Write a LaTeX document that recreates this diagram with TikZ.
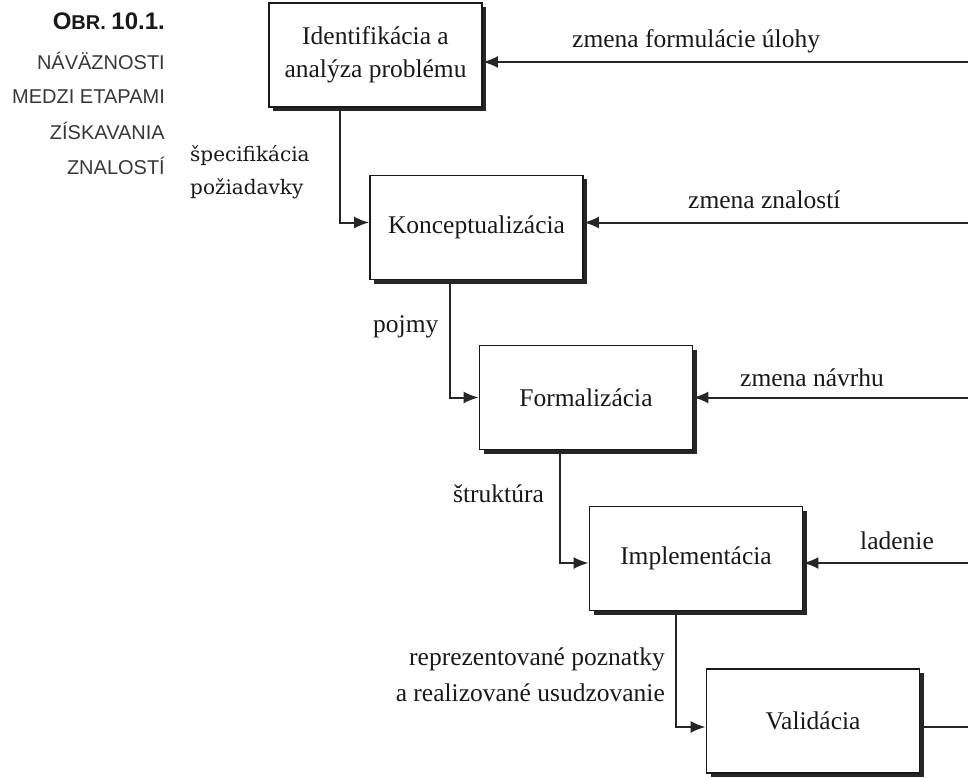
\documentclass[tikz,border=0pt]{standalone}
\usepackage{fontspec}
\setmainfont{Liberation Serif}
\newfontfamily\capfont{Liberation Sans}
\newfontfamily\slabfont{DejaVu Serif}
\usetikzlibrary{arrows.meta,shadows,calc}
\begin{document}
\begin{tikzpicture}[x=1pt,y=-1pt,
  stage/.style={draw=black!90, line width=1.8pt, fill=white,
    minimum width=213pt, minimum height=104pt, inner sep=2pt, align=center,
    font=\fontsize{25.5}{33}\selectfont, text=black!90,
    drop shadow={shadow xshift=4pt, shadow yshift=-4pt, fill=black!85, opacity=1}},
  conn/.style={line width=2pt, draw=black!85},
  arr/.style={conn, -{Latex[length=15pt,width=12pt]}},
  lbl/.style={font=\fontsize{25.5}{36}\selectfont, text=black!90, inner sep=0pt},
  slab/.style={font=\slabfont\fontsize{20}{33}\selectfont, text=black!90, inner sep=0pt, align=left},
  capt/.style={font=\capfont\fontsize{20}{23}\selectfont, text=black!78, inner sep=0pt, anchor=base east}
]
\useasboundingbox (0,0) rectangle (968,778);

% caption
\node[capt, text=black!90] (t0) at (165,30) {\bfseries{\fontsize{24}{28}\selectfont O}BR.~{\fontsize{24}{28}\selectfont 10.1.}};
\node[capt] (t1) at (165,70) {NÁVÄZNOSTI};
\node[capt] (t2) at (165,104) {MEDZI ETAPAMI};
\node[capt] (t3) at (165,140) {ZÍSKAVANIA};
\node[capt] (t4) at (165,175) {ZNALOSTÍ};

% stages
\node[stage] (b1) at (375.5,55) {Identifikácia a\\analýza problému};
\node[stage] (b2) at (476.5,227.5) {Konceptualizácia};
\node[stage] (b3) at (586,397.5) {Formalizácia};
\node[stage] (b4) at (696,558.5) {Implementácia};
\node[stage] (b5) at (813,721) {Validácia};

% anchor points
\coordinate (R) at (968,0);
\coordinate (p1) at ([yshift=-7pt]b1.east);
\coordinate (p2) at ([yshift=5pt]b2.east);
\coordinate (q2) at ([yshift=5pt]b2.west);
\coordinate (p3) at (b3.east);
\coordinate (q3) at (b3.west);
\coordinate (p4) at ([yshift=-4.5pt]b4.east);
\coordinate (q4) at ([yshift=-4.5pt]b4.west);
\coordinate (p5) at ([yshift=-6pt]b5.east);
\coordinate (q5) at ([yshift=-6pt]b5.west);
\coordinate (v1) at (340,0);
\coordinate (v2) at (450,0);
\coordinate (v3) at (560,0);
\coordinate (v4) at (676,0);

% feedback arrows from the right
\draw[arr] (p1 -| R) -- (p1);
\draw[arr] (p2 -| R) -- (p2);
\draw[arr] (p3 -| R) -- (p3);
\draw[arr] (p4 -| R) -- (p4);
\draw[conn] (p5) -- (p5 -| R);

% forward connectors
\draw[arr] (b1.south -| v1) |- (q2);
\draw[arr] (b2.south -| v2) |- (q3);
\draw[arr] (b3.south -| v3) |- (q4);
\draw[arr] (b4.south -| v4) |- (q5);

% labels
\node[lbl, anchor=base west] (l1) at (572,48) {zmena formulácie úlohy};
\node[lbl, anchor=base west] (l2) at (688,208) {zmena znalostí};
\node[lbl, anchor=base west] (l3) at (740,386) {zmena návrhu};
\node[lbl, anchor=base west] (l4) at (860,549) {ladenie};
\node[slab, anchor=west] (s1) at (190,172) {špecifikácia\\požiadavky};
\node[lbl, anchor=base west] (s2) at (373,332) {pojmy};
\node[lbl, anchor=base west] (s3) at (453,502) {štruktúra};
\node[lbl, anchor=east, align=right] (s4) at (665,675) {reprezentované poznatky\\a realizované usudzovanie};
\end{tikzpicture}
\end{document}
